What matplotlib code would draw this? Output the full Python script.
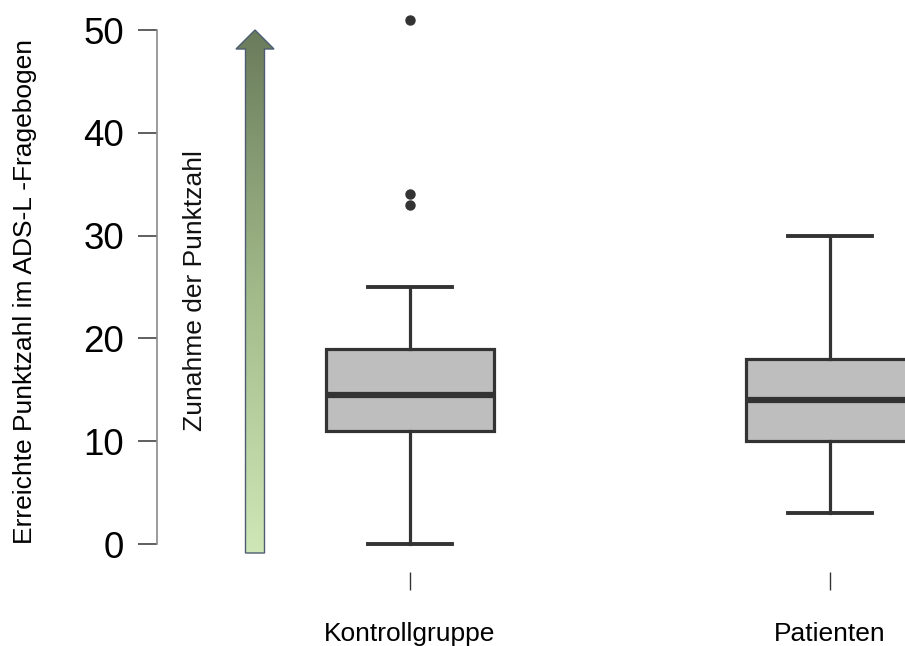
import numpy as np
import matplotlib
matplotlib.use("Agg")
import matplotlib.pyplot as plt
from matplotlib.patches import Polygon
from matplotlib.colors import LinearSegmentedColormap

plt.rcParams['font.family'] = ['Liberation Sans', 'DejaVu Sans']

# Data
groups = ["Kontrollgruppe", "Patienten"]
whisker_low = [0, 3]
q1 = [11, 10]
medians = [14.5, 14]
q3 = [19, 18]
whisker_high = [25, 30]
outliers = [[33, 34, 51], []]
y_ticks = [0, 10, 20, 30, 40, 50]

y_label = "Erreichte Punktzahl im ADS-L -Fragebogen"
arrow_label = "Zunahme der Punktzahl"

W, H = 905, 646
fig = plt.figure(figsize=(W / 100, H / 100), dpi=100)

# overlay in pixel coords for the gradient arrow
over = fig.add_axes([0, 0, 1, 1], zorder=0)
over.set_xlim(0, W)
over.set_ylim(H, 0)
over.axis("off")

cx, tip, head_base, bottom = 255, 30, 49, 553
bw, hw = 9.5, 19
pts = [(cx - bw, bottom), (cx - bw, head_base), (cx - hw, head_base), (cx, tip),
       (cx + hw, head_base), (cx + bw, head_base), (cx + bw, bottom)]
arrow = Polygon(pts, closed=True, facecolor="none", edgecolor="#4d5c72", lw=1.0, zorder=3)
over.add_patch(arrow)
cmap = LinearSegmentedColormap.from_list("grn", ["#6a7b5b", "#a2ba8a", "#cfe6b6"])
grad = np.linspace(0, 1, 256).reshape(-1, 1)
im = over.imshow(grad, cmap=cmap, aspect="auto", extent=(cx - hw, cx + hw, bottom, tip),
                 origin="upper", zorder=2)
im.set_clip_path(arrow)
over.set_xlim(0, W)
over.set_ylim(H, 0)

over.text(195, 291, arrow_label, rotation=90, ha="center", va="center", fontsize=19, color="#111111")

# main boxplot axes
ax = fig.add_axes([157 / W, (H - 572) / H, 1 - 157 / W, 572 / H], zorder=1)
ax.patch.set_alpha(0)

stats = []
for i, g in enumerate(groups):
    stats.append(dict(label=g, whislo=whisker_low[i], q1=q1[i], med=medians[i],
                      q3=q3[i], whishi=whisker_high[i], fliers=outliers[i]))

dark = "#333333"
ax.bxp(stats, positions=[1, 2], widths=0.4, capwidths=0.2, patch_artist=True,
       boxprops=dict(facecolor="#bebebe", edgecolor=dark, linewidth=2.3),
       medianprops=dict(color=dark, linewidth=4.5, solid_capstyle="butt"),
       whiskerprops=dict(color=dark, linewidth=2.3),
       capprops=dict(color=dark, linewidth=2.8),
       flierprops=dict(marker="o", markerfacecolor=dark, markeredgecolor=dark, markersize=6.5))

px_per_unit = 420
ax.set_xlim(1 - (410 - 157) / px_per_unit, 2 + (W - 830) / px_per_unit)
ax.set_ylim(-28 / 10.28, 544 / 10.28)

for s in ["top", "right", "bottom"]:
    ax.spines[s].set_visible(False)
ax.spines["left"].set_bounds(0, 50)
ax.spines["left"].set_color("#8a8a8a")
ax.spines["left"].set_linewidth(1.2)

ax.set_yticks(y_ticks)
ax.tick_params(axis="y", length=13.5, width=1.2, color="#444444", labelsize=26.5, pad=10)
ax.set_xticks([1, 2])
ax.set_xticklabels(groups)
ax.tick_params(axis="x", length=13, width=1.0, color="#333333", labelsize=19, pad=23)

fig.text(25 / W, (H - 292) / H, y_label, rotation=90, ha="center", va="center", fontsize=19)

fig.savefig("out.png", dpi=100)
